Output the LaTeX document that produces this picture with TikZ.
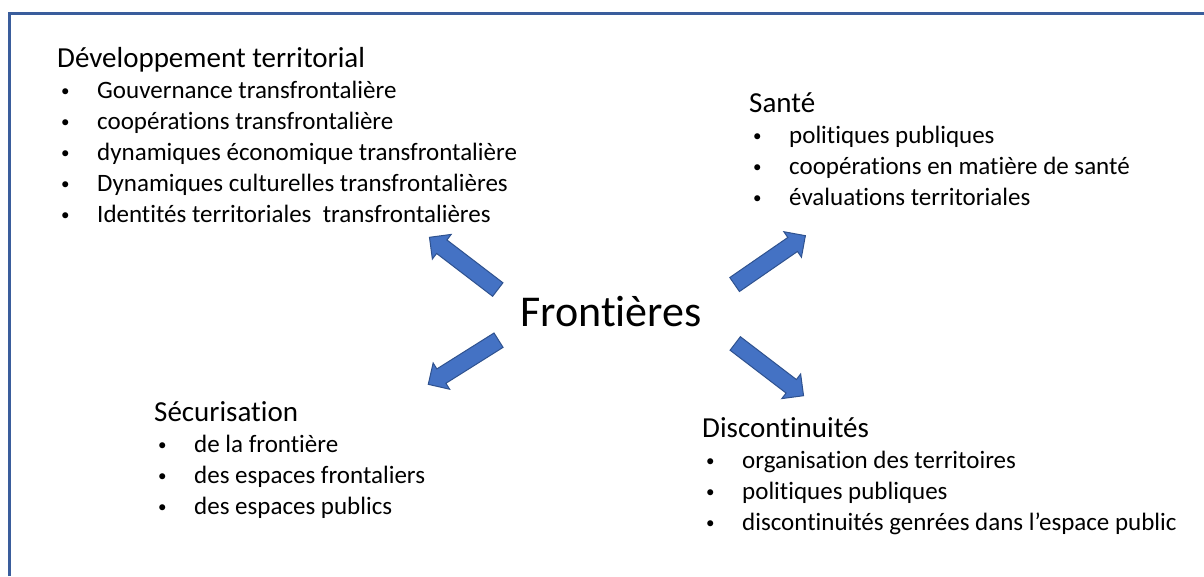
\documentclass[tikz,border=0pt]{standalone}
\usepackage{fontspec}
\setmainfont{Carlito}[Ligatures=NoCommon]
\usetikzlibrary{shapes.arrows}

\definecolor{cadre}{HTML}{3A5D9C}
\definecolor{fleche}{HTML}{4472C4}
\definecolor{flechebord}{HTML}{2F528F}

\newcommand{\puce}[1]{\hspace*{4pt}\makebox[36pt][l]{\raisebox{1.5pt}{\fontsize{17}{31}\selectfont\textbullet}}#1}
\newcommand{\titre}[1]{{\fontsize{29}{31}\selectfont #1}}

\tikzset{
  bloc/.style={anchor=base west, align=left, inner sep=0pt, font=\fontsize{25}{31}\selectfont},
  grossefleche/.style={single arrow, draw=flechebord, fill=fleche, line width=1pt,
    single arrow head extend=7pt, inner sep=8pt, midway, sloped, allow upside down}
}

\begin{document}
\begin{tikzpicture}[x=1pt,y=-1pt]
    \useasboundingbox (0,0) rectangle (1204,576);
    % cadre
    \draw[cadre, line width=3pt] (9,576) -- (9,13) -- (1204,13);

    \node[anchor=base, font=\fontsize{44}{50}\selectfont] (frontieres) at (611,326) {Frontières};

    % base = ligne du bas
    \node[bloc] (developpement) at (57,222) {\titre{Développement territorial}\\
        \puce{Gouvernance transfrontalière}\\
        \puce{coopérations transfrontalière}\\
        \puce{dynamiques économique transfrontalière}\\
        \puce{Dynamiques culturelles transfrontalières}\\
        \puce{Identités territoriales~ transfrontalières}};
    \node[bloc] (sante) at (749,205) {\titre{Santé}\\
        \puce{politiques publiques}\\
        \puce{coopérations en matière de santé}\\
        \puce{évaluations territoriales}};
    \node[bloc] (securisation) at (154,514) {\titre{Sécurisation}\\
        \puce{de la frontière}\\
        \puce{des espaces frontaliers}\\
        \puce{des espaces publics}};
    \node[bloc] (discontinuites) at (702,530) {\titre{Discontinuités}\\
        \puce{organisation des territoires}\\
        \puce{politiques publiques}\\
        \puce{discontinuités genrées dans l’espace public}};

    % fleches
    \coordinate (hgA) at (501,292);
    \coordinate (hgB) at (433,240);
    \coordinate (hdA) at (731,287);
    \coordinate (hdB) at (802,238);
    \coordinate (bgA) at (502,338);
    \coordinate (bgB) at (432,382);
    \coordinate (bdA) at (732,341);
    \coordinate (bdB) at (800,393);
    \path (hgA) -- (hgB) node[grossefleche, minimum height=86pt] (flecheHG) {};
    \path (hdA) -- (hdB) node[grossefleche, minimum height=86pt] (flecheHD) {};
    \path (bgA) -- (bgB) node[grossefleche, minimum height=83pt] (flecheBG) {};
    \path (bdA) -- (bdB) node[grossefleche, minimum height=86pt] (flecheBD) {};
\end{tikzpicture}
\end{document}
